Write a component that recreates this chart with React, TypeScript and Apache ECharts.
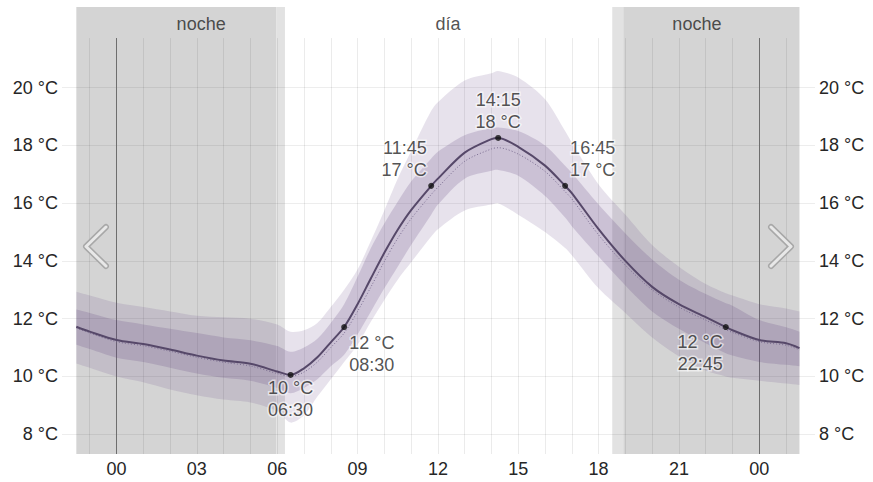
import React, { useEffect, useRef } from "react";
import * as echarts from "echarts";

// ---- data ----
const hours = [-1.5, -1, 0, 1, 2, 3, 4, 5, 6, 6.5, 7, 7.5, 8, 8.5, 9, 9.5, 10, 10.5, 11, 11.75, 12, 13, 14, 14.25, 15, 16, 16.75, 17, 18, 19, 20, 21, 22, 22.75, 23, 24, 25, 25.5];
const tempMain = [11.72, 11.55, 11.26, 11.12, 10.93, 10.72, 10.55, 10.44, 10.17, 10.05, 10.28, 10.66, 11.18, 11.71, 12.5, 13.4, 14.28, 15.08, 15.76, 16.6, 16.85, 17.75, 18.22, 18.26, 17.95, 17.3, 16.6, 16.35, 15.1, 14.0, 13.1, 12.5, 12.05, 11.71, 11.6, 11.26, 11.15, 10.98];
const tempDotted = [11.68, 11.5, 11.2, 11.06, 10.87, 10.66, 10.49, 10.36, 10.1, 10.0, 10.15, 10.5, 11.0, 11.5, 12.25, 13.1, 13.98, 14.78, 15.46, 16.3, 16.55, 17.45, 17.88, 17.92, 17.7, 17.1, 16.4, 16.15, 14.9, 13.85, 13.0, 12.4, 11.95, 11.62, 11.52, 11.2, 11.08, 10.92];
const innerLow = [11.1, 10.95, 10.65, 10.5, 10.3, 10.1, 9.95, 9.85, 9.6, 9.42, 9.6, 9.9, 10.35, 10.75, 11.45, 12.25, 13.05, 13.8, 14.55, 15.6, 15.95, 16.85, 17.12, 17.15, 16.95, 16.25, 15.5, 15.2, 14.15, 13.15, 12.25, 11.65, 11.15, 10.8, 10.72, 10.5, 10.4, 10.35];
const innerHigh = [12.32, 12.2, 11.95, 11.8, 11.65, 11.5, 11.35, 11.25, 11.05, 10.85, 11.0, 11.3, 11.85, 12.5, 13.45, 14.45, 15.3, 16.05, 16.75, 17.55, 17.78, 18.35, 18.6, 18.62, 18.5, 18.0, 17.3, 17.05, 15.95, 14.95, 14.05, 13.35, 12.85, 12.53, 12.45, 11.95, 11.7, 11.55];
const outerLow = [10.45, 10.3, 10.0, 9.8, 9.55, 9.35, 9.2, 9.1, 8.8, 8.4, 8.65, 9.3, 9.9, 10.5, 11.1, 11.9, 12.65, 13.35, 13.95, 14.85, 15.1, 15.75, 15.95, 16.0, 15.6, 15.0, 14.45, 14.2, 13.05, 12.2, 11.35, 10.7, 10.2, 10.0, 9.95, 9.85, 9.75, 9.7];
const outerHigh = [12.93, 12.8, 12.55, 12.4, 12.25, 12.1, 12.05, 12.0, 11.8, 11.55, 11.6, 11.85, 12.4, 13.0, 13.7, 14.7, 15.75, 16.85, 17.8, 19.2, 19.5, 20.25, 20.5, 20.58, 20.35, 19.6, 18.5, 18.1, 16.65, 15.6, 14.55, 13.8, 13.2, 12.88, 12.8, 12.5, 12.35, 12.25];

const markerHours = [6.5, 8.5, 11.75, 14.25, 16.75, 22.75];
const yTickValues = [8, 10, 12, 14, 16, 18, 20];
const xTickValues = [0, 3, 6, 9, 12, 15, 18, 21, 24];
const gridHours = [-1, 0, 1, 2, 3, 4, 5, 6, 7, 8, 9, 10, 11, 12, 13, 14, 15, 16, 17, 18, 19, 20, 21, 22, 23, 24, 25];
const midnightHours = [0, 24];
const nightSpans = [[-1.5, 5.96], [18.92, 25.5]];
const twilightSpans = [[5.96, 6.29], [18.51, 18.92]];
const periodNames = ["noche", "día", "noche"];
const periodHours = [3.16, 12.38, 21.67];

// ---- layout constants ----
const X_MIN = -2.035;
const X_MAX = 26.08;
const Y_MIN = 7.312;
const Y_MAX = 22.795;
const GRIDLINE_TOP = 21.72;
const PERIOD_LABEL_Y = 22.22;
const FONT = "'Liberation Sans', Arial, sans-serif";
const TEXT = "#262626";
const SMOOTH = 0.3;

const pad = (n: number) => (n < 10 ? "0" + n : "" + n);
const fmtTime = (h: number) => {
  const hh = Math.floor(h);
  const mm = Math.round((h - hh) * 60);
  return pad(((hh % 24) + 24) % 24) + ":" + pad(mm);
};

const markerPlacement: any[] = [
  { pos: [3, 5], align: "center", va: "top", tempFirst: true },
  { pos: [8, 8], align: "left", va: "top", tempFirst: true },
  { pos: [-1.5, -2], align: "right", va: "bottom", tempFirst: false },
  { pos: [3, -2], align: "center", va: "bottom", tempFirst: false },
  { pos: [8, -2], align: "left", va: "bottom", tempFirst: false },
  { pos: [0, 7], align: "right", va: "top", tempFirst: true },
];

const pairs = (ys: number[]) => hours.map((h, i) => [h, ys[i]]);

// smooth cubic segments through pixel points (same scheme as ECharts' line smoothing)
function smoothSegments(pts: number[][], s: number): string {
  let d = "";
  const n = pts.length;
  const dist = (a: number[], b: number[]) => Math.hypot(a[0] - b[0], a[1] - b[1]);
  for (let i = 0; i < n - 1; i++) {
    const p0 = pts[i - 1] || pts[i];
    const p1 = pts[i];
    const p2 = pts[i + 1];
    const p3 = pts[i + 2] || pts[i + 1];
    let l1 = dist(p0, p1), l2 = dist(p1, p2);
    let r = l1 + l2 > 0 ? l2 / (l1 + l2) : 0.5;
    const c1 = [p1[0] + (p2[0] - p0[0]) * s * r, p1[1] + (p2[1] - p0[1]) * s * r];
    l1 = dist(p1, p2);
    l2 = dist(p2, p3);
    r = l1 + l2 > 0 ? l1 / (l1 + l2) : 0.5;
    const c2 = [p2[0] - (p3[0] - p1[0]) * s * r, p2[1] - (p3[1] - p1[1]) * s * r];
    d += ` C${c1[0].toFixed(2)},${c1[1].toFixed(2)} ${c2[0].toFixed(2)},${c2[1].toFixed(2)} ${p2[0].toFixed(2)},${p2[1].toFixed(2)}`;
  }
  return d;
}

function bandSeries(name: string, lo: number[], hi: number[], color: string, z: number) {
  return {
    type: "custom",
    name,
    silent: true,
    z,
    data: hours.map((h, i) => [h, lo[i], hi[i]]),
    encode: { x: 0, y: [1, 2] },
    renderItem: (params: any, api: any) => {
      if (params.dataIndex !== 0) return null;
      const upper = hours.map((h, i) => api.coord([h, hi[i]]));
      const lower = hours.map((h, i) => api.coord([h, lo[i]])).reverse();
      const d =
        `M${upper[0][0].toFixed(2)},${upper[0][1].toFixed(2)}` +
        smoothSegments(upper, SMOOTH) +
        ` L${lower[0][0].toFixed(2)},${lower[0][1].toFixed(2)}` +
        smoothSegments(lower, SMOOTH) +
        " Z";
      return {
        type: "path",
        shape: { pathData: d },
        style: { fill: color, stroke: null },
      };
    },
  };
}

export default function App() {
  const ref = useRef<HTMLDivElement>(null);
  useEffect(() => {
    if (!ref.current) return;
    const chart = echarts.init(ref.current, undefined, { renderer: "svg" });

    const markerData = markerHours.map((h, k) => {
      const t = tempMain[hours.indexOf(h)];
      const p = markerPlacement[k];
      const tLabel = Math.round(t) + " °C";
      const time = fmtTime(h);
      return {
        value: [h, t],
        label: {
          show: true,
          formatter: p.tempFirst ? tLabel + "\n" + time : time + "\n" + tLabel,
          position: p.pos,
          align: p.align,
          verticalAlign: p.va,
        },
      };
    });

    const invisibleLine = {
      type: "line",
      data: [[hours[0], tempMain[0]]],
      symbol: "none",
      lineStyle: { opacity: 0 },
      silent: true,
    };

    const yAxisBase = (position: string) => ({
      type: "value",
      position,
      min: Y_MIN,
      max: Y_MAX,
      axisLine: { show: false },
      axisTick: { show: false },
      splitLine: { show: false },
      axisLabel: {
        customValues: yTickValues,
        formatter: (v: number) => v + " °C",
        color: TEXT,
        fontSize: 18,
        fontFamily: FONT,
        margin: 4,
      },
    });

    const option: any = {
      animation: false,
      backgroundColor: "#ffffff",
      textStyle: { fontFamily: FONT },
      grid: { left: 62, right: 58, top: 7, bottom: 28, containLabel: false, outerBoundsMode: "none" },
      xAxis: {
        type: "value",
        min: X_MIN,
        max: X_MAX,
        axisLine: { show: false },
        axisTick: { show: false },
        splitLine: { show: false },
        axisLabel: {
          customValues: xTickValues,
          formatter: (v: number) => pad(((Math.round(v) % 24) + 24) % 24),
          color: TEXT,
          fontSize: 18,
          fontFamily: FONT,
          margin: 6,
        },
      },
      yAxis: [yAxisBase("left"), yAxisBase("right")],
      series: [
        {
          ...invisibleLine,
          name: "bg",
          z: 1,
          markArea: {
            silent: true,
            z: 1,
            data: [
              ...nightSpans.map((s) => [
                { xAxis: s[0], yAxis: Y_MAX, itemStyle: { color: "#d4d4d4" } },
                { xAxis: s[1], yAxis: Y_MIN },
              ]),
              ...twilightSpans.map((s) => [
                { xAxis: s[0], yAxis: Y_MAX, itemStyle: { color: "#e2e2e2" } },
                { xAxis: s[1], yAxis: Y_MIN },
              ]),
            ],
          },
        },
        {
          ...invisibleLine,
          name: "grid",
          z: 2,
          markLine: {
            silent: true,
            z: 2,
            symbol: ["none", "none"],
            label: { show: false },
            data: [
              ...yTickValues.map((v) => ({
                yAxis: v,
                lineStyle: { color: "rgba(0,0,0,0.07)", width: 1, type: "solid" },
              })),
              ...gridHours
                .filter((h) => midnightHours.indexOf(h) < 0)
                .map((h) => [
                  { coord: [h, GRIDLINE_TOP], lineStyle: { color: "rgba(0,0,0,0.08)", width: 1, type: "solid" } },
                  { coord: [h, Y_MIN] },
                ]),
              ...midnightHours.map((h) => [
                { coord: [h, GRIDLINE_TOP], lineStyle: { color: "#6e6e6e", width: 1, type: "solid" } },
                { coord: [h, Y_MIN] },
              ]),
            ],
          },
        },
        bandSeries("outerBand", outerLow, outerHigh, "rgba(105,75,135,0.16)", 3),
        bandSeries("innerBand", innerLow, innerHigh, "rgba(95,65,125,0.2)", 3),
        {
          type: "line",
          name: "dotted",
          data: pairs(tempDotted),
          smooth: SMOOTH,
          symbol: "none",
          lineStyle: { color: "#7a6c90", width: 1, type: [1, 2] },
          silent: true,
          z: 4,
        },
        {
          type: "line",
          name: "main",
          data: pairs(tempMain),
          smooth: SMOOTH,
          symbol: "none",
          lineStyle: { color: "#564869", width: 2 },
          silent: true,
          z: 4,
        },
        {
          type: "scatter",
          name: "markers",
          data: markerData,
          symbol: "circle",
          symbolSize: 6,
          itemStyle: { color: "#111" },
          label: {
            show: true,
            color: TEXT,
            fontSize: 18,
            fontFamily: FONT,
            lineHeight: 22,
            textBorderColor: "rgba(255,255,255,0.7)",
            textBorderWidth: 3,
          },
          silent: true,
          z: 5,
        },
        {
          type: "scatter",
          name: "periods",
          data: periodHours.map((h, i) => ({ value: [h, PERIOD_LABEL_Y], name: periodNames[i] })),
          symbolSize: 1,
          itemStyle: { color: "rgba(0,0,0,0)" },
          label: {
            show: true,
            position: "inside",
            formatter: (p: any) => p.name,
            color: TEXT,
            fontSize: 18,
            fontFamily: FONT,
          },
          silent: true,
          z: 6,
        },
      ],
      graphic: [
        {
          type: "polyline",
          z: 100,
          shape: { points: [[106, 227], [86, 246.5], [106, 266]] },
          style: { stroke: "#a8a8a8", lineWidth: 6, fill: null, lineCap: "round", lineJoin: "round" },
        },
        {
          type: "polyline",
          z: 101,
          shape: { points: [[106, 227], [86, 246.5], [106, 266]] },
          style: { stroke: "#e8e8e8", lineWidth: 3, fill: null, lineCap: "round", lineJoin: "round" },
        },
        {
          type: "polyline",
          z: 100,
          shape: { points: [[771, 227], [791, 246.5], [771, 266]] },
          style: { stroke: "#a8a8a8", lineWidth: 6, fill: null, lineCap: "round", lineJoin: "round" },
        },
        {
          type: "polyline",
          z: 101,
          shape: { points: [[771, 227], [791, 246.5], [771, 266]] },
          style: { stroke: "#e8e8e8", lineWidth: 3, fill: null, lineCap: "round", lineJoin: "round" },
        },
      ],
    };

    chart.setOption(option);
    return () => chart.dispose();
  }, []);

  return (
    <div
      ref={ref}
      style={{ position: "fixed", left: 0, top: 0, width: 873, height: 482, background: "#fff" }}
    />
  );
}
